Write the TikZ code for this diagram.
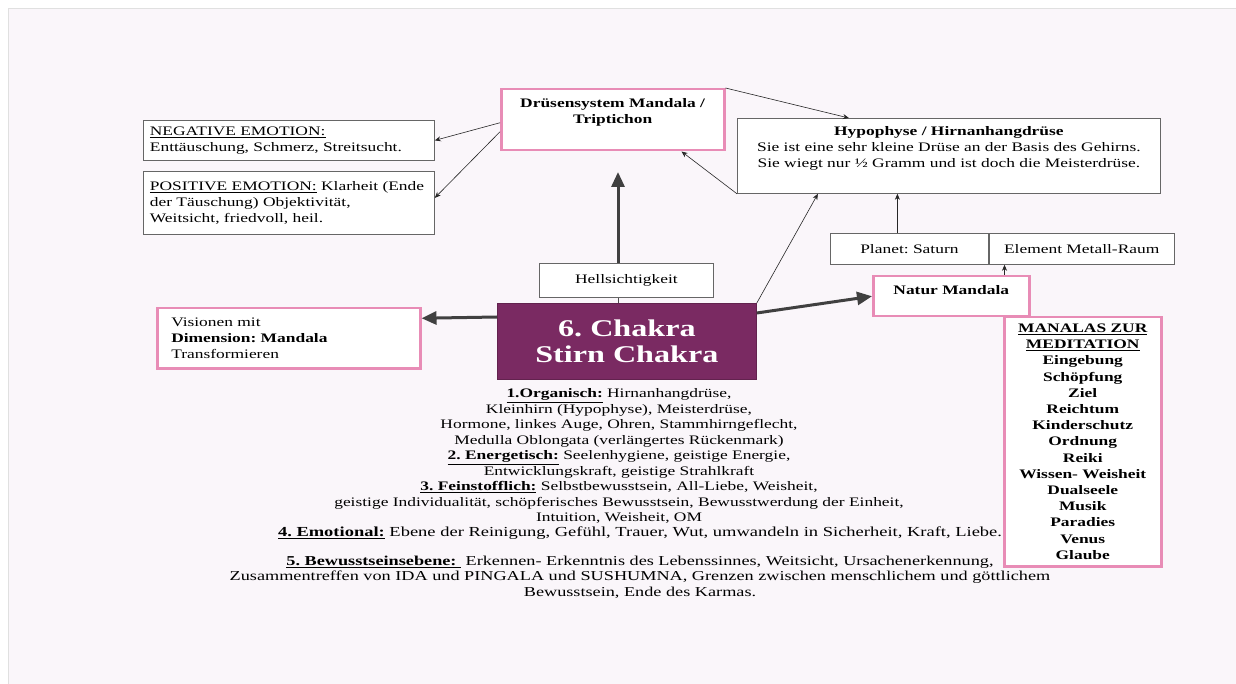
\documentclass[tikz,border=0pt]{standalone}
\usepackage{fontspec}
\setmainfont[FakeStretch=1.34]{Liberation Serif}
\usetikzlibrary{arrows.meta,positioning}
\definecolor{rosa}{RGB}{232,140,182}
\definecolor{lilla}{RGB}{122,42,98}
\definecolor{bakgrunn}{RGB}{250,246,250}
\tikzset{
    % Define style for grey boxes
    boks/.style={
           rectangle,
           draw=black!60, line width=0.8pt,
           fill=white,
           anchor=north west,
           inner sep=3pt,
           font=\fontsize{13}{16}\selectfont},
    % Define style for pink boxes
    rosaboks/.style={
           boks,
           draw=rosa, line width=2.5pt},
    % Define arrow styles
    pil/.style={
           -{Stealth[length=6pt,width=5pt]},
           draw=black!85, line width=0.6pt},
    tykkpil/.style={
           -{Triangle[length=15pt,width=13pt]},
           draw=black!75, line width=3pt},
    % Text under the chakra
    tekst/.style={
           align=center,
           font=\fontsize{13}{15.5}\selectfont}
}

\begin{document}
\frenchspacing
\begin{tikzpicture}[x=1pt,y=-1pt]
\useasboundingbox (0,0) rectangle (1236,684);
\fill[white] (0,0) rectangle (1236,684);
\fill[bakgrunn] (8,8) rectangle (1236,684);
\draw[black!12] (8,684) -- (8,8) -- (1236,8);

% Boxes on the left
\node[boks, minimum width=291pt, minimum height=40pt, text width=278pt, align=left] (neg) at (143,120)
    {\underline{NEGATIVE EMOTION:}\\Enttäuschung, Schmerz, Streitsucht.};
\node[boks, minimum width=291pt, minimum height=63pt, text width=278pt, align=left] (pos) at (143,171)
    {\underline{POSITIVE EMOTION:} Klarheit (Ende\\der Täuschung) Objektivität,\\Weitsicht, friedvoll, heil.};
\node[rosaboks, minimum width=263pt, minimum height=60pt, text width=235pt, align=left] (vis) at (156,307)
    {Visionen mit\\\textbf{Dimension: Mandala}\\Transformieren};

% Top row
\node[rosaboks, minimum width=223pt, minimum height=61pt, align=center, text depth=17pt] (druesen) at (500,88)
    {\textbf{Drüsensystem Mandala /}\\\textbf{Triptichon}};
\node[boks, minimum width=423pt, minimum height=75pt, align=center, text depth=17pt] (hypo) at (737,118)
    {\textbf{Hypophyse / Hirnanhangdrüse}\\Sie ist eine sehr kleine Drüse an der Basis des Gehirns.\\Sie wiegt nur ½ Gramm und ist doch die Meisterdrüse.};

% Centre
\node[boks, minimum width=174pt, minimum height=34pt] (hell) at (539,263) {Hellsichtigkeit};
\node[boks, minimum width=259pt, minimum height=76pt, fill=lilla, draw=lilla!80!black, text=white,
      align=center, font=\fontsize{24}{26}\selectfont\bfseries] (chakra) at (497,303)
    {6. Chakra\\Stirn Chakra};

% Right side
\node[boks, minimum width=158pt, minimum height=31pt] (planet) at (830,233) {Planet: Saturn};
\node[boks, minimum width=185pt, minimum height=31pt, right=0pt of planet] (element) {Element Metall-Raum};
\node[rosaboks, minimum width=156pt, minimum height=40pt, text depth=13pt] (natur) at (872,275)
    {\textbf{Natur Mandala}};
\node[rosaboks, minimum width=157pt, minimum height=249pt, align=center,
      font=\fontsize{13}{16.2}\selectfont\bfseries] (manalas) at (1003,316)
    {\underline{MANALAS ZUR}\\\underline{MEDITATION}\\Eingebung\\Schöpfung\\Ziel\\Reichtum\\Kinderschutz\\Ordnung\\Reiki\\Wissen- Weisheit\\Dualseele\\Musik\\Paradies\\Venus\\Glaube};

% Text below the chakra
\node[tekst] (organ) at (619,456)
    {\underline{\textbf{1.Organisch:}} Hirnanhangdrüse,\\
     Kleinhirn (Hypophyse), Meisterdrüse,\\
     Hormone, linkes Auge, Ohren, Stammhirngeflecht,\\
     Medulla Oblongata (verlängertes Rückenmark)\\
     \underline{\textbf{2. Energetisch:}} Seelenhygiene, geistige Energie,\\
     Entwicklungskraft, geistige Strahlkraft\\
     \underline{\textbf{3. Feinstofflich:}} Selbstbewusstsein, All-Liebe, Weisheit,\\
     geistige Individualität, schöpferisches Bewusstsein, Bewusstwerdung der Einheit,\\
     Intuition, Weisheit, OM};
\node[tekst, font=\fontsize{13.8}{15.5}\selectfont] (emo) at (640,533)
    {\underline{\textbf{4. Emotional:}} Ebene der Reinigung, Gefühl, Trauer, Wut, umwandeln in Sicherheit, Kraft, Liebe.};
\node[tekst, font=\fontsize{13.6}{15.5}\selectfont] (bev) at (640,577)
    {\underline{\textbf{5. Bewusstseinsebene:\ }} Erkennen- Erkenntnis des Lebenssinnes, Weitsicht, Ursachenerkennung,\\
     Zusammentreffen von IDA und PINGALA und SUSHUMNA, Grenzen zwischen menschlichem und göttlichem\\
     Bewusstsein, Ende des Karmas.};

% Now connect the nodes
\coordinate (spiss) at (618,172);
\draw[pil] ([yshift=-3pt]druesen.west) -- (neg.east);
\draw[pil] ([yshift=-12pt]druesen.west) -- ([yshift=5pt]pos.east);
\draw[pil] (druesen.north east) -- ([xshift=-100pt]hypo.north);
\draw[pil] (hypo.south west) -- ([xshift=-44pt]druesen.south east);
\draw[black!70] (hell.south -| spiss) -- (chakra.north -| spiss);
\draw[tykkpil] (hell.north -| spiss) -- (spiss);
\draw[pil] (chakra.north east) -- ([xshift=-131pt]hypo.south);
\draw[tykkpil] ([yshift=-10pt]chakra.north east) -- (natur.west);
\draw[tykkpil] ([yshift=-14pt]chakra.north west) -- ([yshift=20pt]vis.east);
\draw[pil] ([xshift=-12pt]planet.north) -- ([xshift=-12pt]planet.north |- hypo.south);
\draw[pil] ([xshift=-26pt]natur.north east) -- ([xshift=-26pt]natur.north east |- element.south);
\end{tikzpicture}
\end{document}
